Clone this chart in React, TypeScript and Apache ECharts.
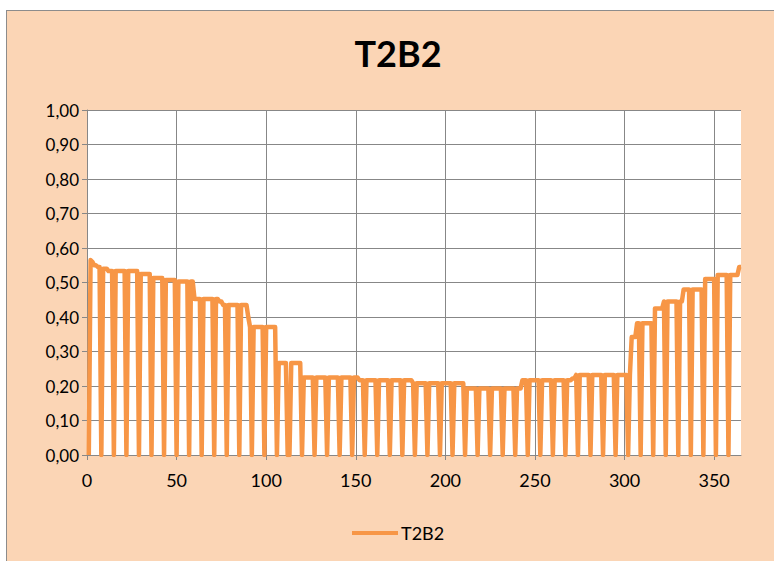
import React, { useEffect, useRef } from "react";
import * as echarts from "echarts";

// Day numbers on which the line drops to zero
const zeroDays = [
  1, 8, 15, 22, 29, 36, 43, 50, 57, 64, 71, 78, 85, 92, 99, 106, 112, 113, 120,
  127, 134, 141, 148, 155, 162, 169, 176, 183, 190, 197, 204, 211, 218, 225,
  232, 239, 246, 253, 260, 267, 274, 281, 288, 295, 302, 309, 316, 323, 330,
  337, 344, 351, 358,
];

// Level segments (first day, last day, value)
const segStart = [2, 3, 4, 6, 9, 12, 30, 36, 44, 51, 60, 74, 76, 90, 91, 107, 114, 121, 152, 182, 212, 243, 271, 273, 303, 304, 307, 317, 322, 333, 345, 352, 364];
const segEnd = [2, 3, 5, 7, 11, 29, 35, 43, 50, 59, 73, 75, 89, 90, 106, 113, 120, 151, 181, 211, 242, 270, 272, 302, 303, 306, 316, 321, 332, 344, 351, 363, 365];
const segValue = [0.565, 0.56, 0.55, 0.545, 0.54, 0.533, 0.525, 0.513, 0.507, 0.503, 0.452, 0.445, 0.435, 0.4, 0.371, 0.267, 0.267, 0.225, 0.217, 0.208, 0.193, 0.217, 0.222, 0.232, 0.232, 0.342, 0.382, 0.425, 0.445, 0.48, 0.51, 0.522, 0.545];

const seriesName = "T2B2";
const totalDays = 365;

function buildData(): [number, number][] {
  const out: [number, number][] = [];
  for (let d = 1; d <= totalDays; d++) {
    let v = 0;
    for (let i = 0; i < segStart.length; i++) {
      if (d >= segStart[i] && d <= segEnd[i]) v = segValue[i];
    }
    if (zeroDays.includes(d)) v = 0;
    out.push([d, v]);
  }
  return out;
}

export default function App() {
  const ref = useRef<HTMLDivElement>(null);
  useEffect(() => {
    if (!ref.current) return;
    const chart = echarts.init(ref.current, null, { renderer: "svg" });
    const font = "Lato, 'Noto Sans', sans-serif";
    const grey = "#878787";
    chart.setOption({
      animation: false,
      backgroundColor: "transparent",
      title: {
        text: "T2B2",
        left: 393,
        textAlign: "center",
        top: 30,
        textStyle: { fontFamily: font, fontSize: 36, fontWeight: "bold", color: "#000" },
      },
      legend: {
        data: [seriesName],
        left: 347,
        top: 519,
        icon: "rect",
        itemWidth: 46,
        itemHeight: 4,
        itemGap: 10,
        textStyle: { fontFamily: font, fontSize: 18, color: "#000", padding: [0, 0, 0, -2] },
      },
      grid: {
        left: 87,
        top: 110,
        width: 654,
        height: 345,
        show: true,
        backgroundColor: "#ffffff",
        borderWidth: 0,
      },
      xAxis: {
        type: "value",
        min: 0,
        max: totalDays,
        interval: 50,
        axisLine: { show: true, lineStyle: { color: grey, width: 1 } },
        axisTick: { show: true, length: 5, lineStyle: { color: grey } },
        splitLine: { show: true, showMaxLine: false, lineStyle: { color: grey, width: 1 } },
        axisLabel: {
          fontFamily: font,
          fontSize: 18,
          color: "#000",
          margin: 16,
          showMaxLabel: false,
        },
      },
      yAxis: {
        type: "value",
        min: 0,
        max: 1,
        interval: 0.1,
        axisLine: { show: true, lineStyle: { color: grey, width: 1 } },
        axisTick: { show: true, length: 5, lineStyle: { color: grey } },
        splitLine: { show: true, lineStyle: { color: grey, width: 1 } },
        axisLabel: {
          fontFamily: font,
          fontSize: 17,
          color: "#000",
          margin: 8,
          formatter: (v: number) => v.toFixed(2).replace(".", ","),
        },
      },
      series: [
        {
          name: seriesName,
          type: "line",
          data: buildData(),
          showSymbol: false,
          symbol: "none",
          lineStyle: { color: "#F79646", width: 4.5, join: "round" },
          itemStyle: { color: "#F79646" },
        },
      ],
    });
    return () => chart.dispose();
  }, []);
  return (
    <div style={{ position: "absolute", left: 0, top: 0, width: 774, height: 561, background: "#ffffff", overflow: "hidden" }}>
      <div
        style={{
          position: "absolute",
          left: 6,
          top: 10,
          width: 800,
          height: 600,
          background: "#FBD5B5",
          borderLeft: "1px solid #8c8c8c",
          borderTop: "1px solid #8c8c8c",
        }}
      />
      <div ref={ref} style={{ position: "absolute", left: 0, top: 0, width: 774, height: 561 }} />
    </div>
  );
}
